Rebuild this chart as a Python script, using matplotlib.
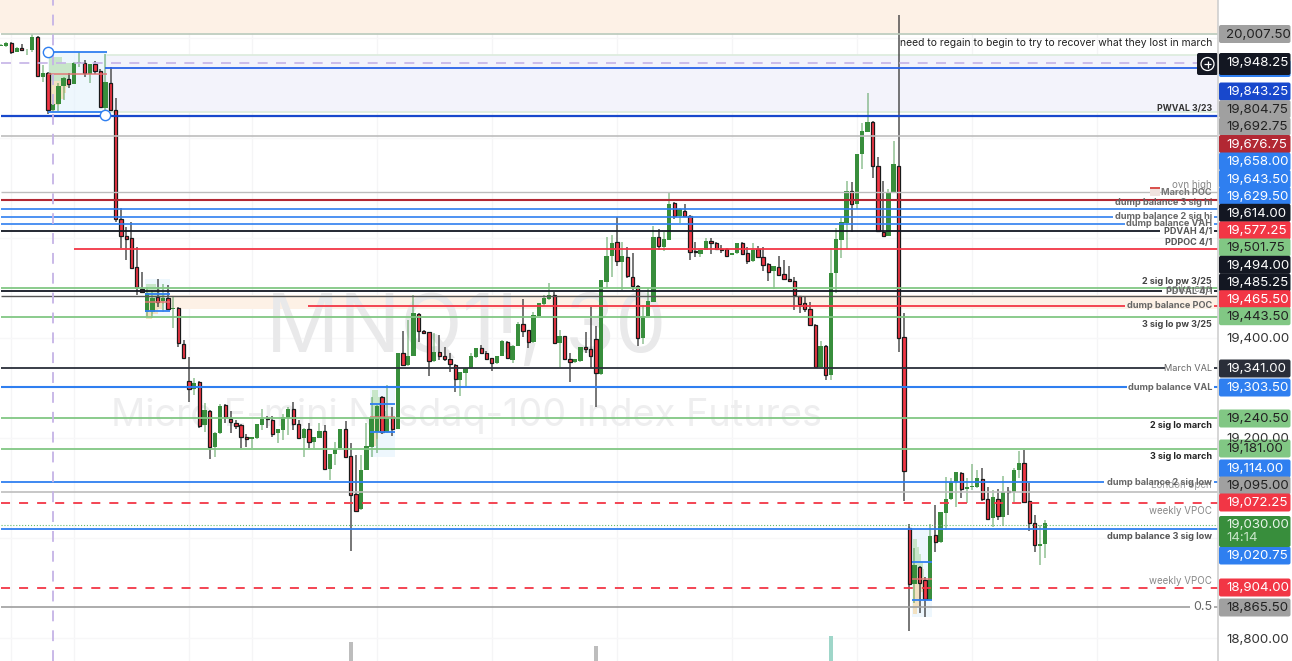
import numpy as np
import matplotlib
matplotlib.use('Agg')
import matplotlib.pyplot as plt
from matplotlib.patches import Rectangle, FancyBboxPatch, Circle

plt.rcParams['font.family'] = ['Inter', 'DejaVu Sans']

#### DATA: 30 minute candles
opens = [19985,19985,19991,19973,19981,19976,19976,20003,19923,19931,
         19856,19868,19905,19919,19909,19950,19951,19928,19949,19935,
         19861,19911,19856,19638,19604,19600,19542,19498,19452,19452,
         19482,19474,19480,19458,19460,19388,19314,19298,19312,19226,
         19254,19182,19210,19266,19238,19230,19226,19202,19198,19200,
         19226,19240,19236,19210,19216,19240,19258,19228,19200,19218,
         19192,19200,19214,19138,19168,19180,19218,19164,19088,19058,
         19136,19182,19212,19282,19212,19242,19218,19370,19346,19364,
         19448,19414,19412,19354,19372,19364,19358,19346,19316,19330,
         19340,19362,19380,19370,19360,19350,19364,19392,19356,19384,
         19428,19416,19392,19444,19468,19478,19486,19390,19404,19358,
         19352,19354,19382,19378,19398,19328,19512,19564,19592,19552,
         19562,19522,19504,19400,19444,19472,19602,19582,19596,19670,
         19644,19654,19644,19574,19568,19576,19594,19590,19578,19578,
         19566,19570,19590,19570,19554,19578,19562,19548,19534,19542,
         19528,19518,19514,19484,19470,19458,19426,19342,19384,19326,
         19530,19596,19630,19694,19668,19768,19812,19832,19744,19612,
         19604,19692,19744,19402,19020,18908,18942,18916,18876,19006,
         18992,19050,19078,19112,19130,19098,19102,19102,19118,19078,
         19040,19078,19042,19094,19092,19136,19150,19074,19030,18984,
         18988]
highs = [19988,19993,19993,19982,19989,19978,20009,20004,19946,19932,
         19876,19910,19922,19930,19952,19973,19956,19948,19955,19938,
         19969,19943,19880,19660,19622,19632,19582,19532,19502,19496,
         19518,19508,19506,19484,19462,19396,19362,19320,19314,19270,
         19256,19212,19268,19268,19254,19236,19228,19208,19202,19228,
         19258,19244,19244,19218,19248,19262,19272,19236,19220,19230,
         19202,19230,19226,19168,19192,19218,19234,19190,19166,19166,
         19230,19282,19266,19284,19306,19262,19370,19414,19436,19486,
         19450,19416,19412,19410,19406,19382,19370,19348,19332,19340,
         19370,19380,19386,19374,19360,19364,19396,19394,19386,19432,
         19478,19416,19452,19470,19486,19510,19492,19416,19404,19370,
         19358,19382,19412,19462,19424,19516,19602,19606,19642,19592,
         19582,19570,19506,19466,19500,19624,19618,19612,19692,19672,
         19660,19668,19646,19592,19576,19600,19600,19592,19586,19580,
         19570,19590,19592,19582,19590,19584,19582,19550,19544,19564,
         19556,19544,19522,19484,19484,19472,19428,19394,19386,19580,
         19620,19640,19714,19712,19768,19830,19890,19834,19762,19714,
         19698,19794,20046,19450,19028,18980,18944,18922,19028,19066,
         19052,19122,19120,19132,19132,19120,19148,19136,19140,19102,
         19096,19098,19124,19102,19140,19174,19176,19110,19046,19026,
         19036]
lows = [19984,19983,19968,19972,19975,19966,19973,19922,19913,19848,
        19852,19854,19876,19900,19908,19942,19923,19910,19928,19862,
        19856,19856,19632,19580,19556,19540,19486,19490,19442,19440,
        19462,19452,19456,19420,19382,19360,19272,19286,19220,19212,
        19158,19162,19208,19230,19210,19218,19180,19182,19180,19198,
        19216,19220,19202,19190,19196,19206,19216,19200,19162,19180,
        19180,19200,19136,19116,19146,19176,19160,18974,19054,19056,
        19136,19162,19170,19208,19210,19204,19218,19344,19344,19364,
        19392,19408,19324,19352,19356,19354,19332,19292,19284,19302,
        19338,19360,19368,19356,19334,19348,19364,19358,19350,19384,
        19402,19380,19390,19444,19464,19476,19388,19342,19356,19312,
        19350,19352,19370,19340,19262,19326,19500,19522,19544,19496,
        19520,19496,19384,19388,19444,19472,19576,19574,19596,19638,
        19630,19642,19556,19562,19562,19576,19568,19578,19570,19562,
        19566,19568,19566,19548,19552,19562,19534,19514,19498,19526,
        19518,19512,19456,19450,19452,19424,19342,19340,19316,19316,
        19490,19560,19578,19612,19658,19738,19812,19720,19614,19604,
        19604,19692,19372,19074,18814,18870,18850,18842,18876,18972,
        18990,19016,19076,19062,19080,19070,19096,19100,19074,19038,
        19022,19036,19024,19046,19072,19120,19072,19014,18972,18946,
        18960]
closes = [19987,19990,19973,19981,19976,19977,20003,19924,19931,19857,
          19868,19905,19921,19908,19951,19952,19931,19948,19934,19863,
          19913,19856,19638,19604,19599,19540,19502,19492,19490,19480,
          19472,19480,19458,19460,19390,19360,19298,19310,19224,19256,
          19182,19210,19264,19242,19232,19224,19202,19198,19202,19228,
          19238,19238,19208,19218,19242,19258,19228,19200,19218,19192,
          19202,19214,19138,19168,19178,19218,19162,19086,19054,19136,
          19184,19240,19264,19212,19242,19218,19370,19346,19364,19450,
          19414,19410,19354,19372,19364,19358,19348,19318,19332,19340,
          19364,19380,19370,19358,19350,19364,19394,19360,19384,19428,
          19414,19392,19446,19470,19480,19486,19390,19404,19358,19352,
          19358,19382,19378,19364,19330,19516,19564,19590,19554,19564,
          19524,19504,19400,19444,19474,19602,19584,19598,19668,19644,
          19658,19644,19572,19572,19576,19594,19590,19578,19576,19564,
          19570,19590,19568,19554,19576,19562,19546,19532,19544,19526,
          19518,19514,19486,19468,19458,19426,19342,19384,19326,19530,
          19598,19632,19694,19668,19768,19814,19832,19744,19614,19604,
          19692,19748,19400,19134,18908,18946,18910,18878,19004,18992,
          19052,19078,19112,19132,19098,19102,19104,19120,19078,19038,
          19082,19044,19092,19092,19136,19150,19072,19030,18986,18988,
          19030]

# only the three tallest volume bars reach into the view
volume_bars = [67, 114, 159]
volume_vals = [1900, 1500, 2500]
volume_cols = ['#bdbdbd', '#bdbdbd', '#9fd6c9']

line_prices = [20008, 19949.4, 19940.6, 19843.4, 19804, 19692.6, 19676, 19657.4, 19642.6, 19628.6, 19613.4,
               19577.4, 19499.4, 19494, 19484.6, 19464, 19442.6, 19340.6, 19302, 19239.4, 19178.6, 19112,
               19092.6, 19070.6, 19026, 19018.6, 18900.6, 18862.6]
line_colors = ['#b9c8b9', '#c5b3e6', '#2962e8', '#1848cc', '#bdbdbd', '#bdbdbd', '#b22833', '#2f7ff0', '#2f7ff0', '#2f7ff0', '#131722',
               '#f23645', '#81c784', '#131722', '#555555', '#f23645', '#81c784', '#2a2e39', '#2f7ff0', '#81c784', '#81c784', '#2f7ff0',
               '#bdbdbd', '#f23645', '#66bb6a', '#2f7ff0', '#f23645', '#9e9e9e']
line_widths = [1.2, 1.2, 1.3, 1.6, 1.2, 1.0, 1.5, 1.2, 1.2, 1.2, 1.3,
               1.3, 1.3, 1.3, 1.0, 1.3, 1.3, 1.3, 1.5, 1.3, 1.3, 1.3,
               1.2, 1.3, 0.8, 1.3, 1.3, 1.2]
line_styles = ['-', (0, (6, 5)), '-', '-', '-', '-', '-', '-', '-', '-', '-',
               '-', '-', '-', '-', '-', '-', '-', '-', '-', '-', '-',
               '-', (0, (5, 5)), ':', '-', (0, (5, 5)), '-']
line_starts = [0, 0, 20, 0, 0, 0, 0, 0, 0, 0, 0,
               14, 0, 0, 0, 58.8, 0, 0, 0, 0, 0, 0,
               0, 0, 0, 0, 0, 0]
# None = runs to the price axis, otherwise the line stops at its label
line_ends = [None, None, None, None, None, None, None, None, 213, 215.3, 222,
             None, None, 222.4, None, 215.3, None, 223, 215.7, None, None, 211.3,
             None, None, None, None, None, 227.8]

# labels on the right end of the levels
label_texts = ['PWVAL 3/23', 'ovn high', 'March POC', 'dump balance 3 sig hi', 'dump balance 2 sig hi', 'dump balance VAH',
               'PDVAH 4/1', 'PDPOC 4/1', '2 sig lo pw 3/25', 'spike end', 'PDVAL 4/1', 'dump balance POC',
               '3 sig lo pw 3/25', 'March VAL', 'dump balance VAL', '2 sig lo march', '3 sig lo march',
               'London open', 'dump balance 2 sig low', 'weekly VPOC', 'dump balance 3 sig low', 'weekly VPOC', '0.5']
label_ys = [109, 185, 192.5, 202.5, 216.5, 224, 231.5, 242.5, 281.5, 288.5, 291.5, 306,
            324.5, 368.5, 387.5, 426, 456.5, 484.5, 482.5, 511.5, 536.5, 580.5, 607.5]
label_colors = ['#333333', '#888888', '#777777', '#666666', '#666666', '#666666',
                '#555555', '#555555', '#444444', '#888888', '#666666', '#666666',
                '#444444', '#666666', '#666666', '#222222', '#222222',
                '#999999', '#666666', '#888888', '#555555', '#888888', '#666666']
label_weights = ['bold', 'normal', 'bold', 'bold', 'bold', 'bold',
                 'bold', 'bold', 'bold', 'normal', 'bold', 'bold',
                 'bold', 'normal', 'bold', 'bold', 'bold',
                 'normal', 'bold', 'normal', 'bold', 'normal', 'normal']
label_sizes = [6.3, 7, 6.6, 6.6, 6.6, 6.6,
               6.5, 6.5, 6.5, 7, 6.5, 6.6,
               6.5, 6.6, 6.6, 6.5, 6.5,
               7, 6.6, 7, 6.6, 7, 9]

# price tags on the axis, drawn in this order
tag_texts = ['20,007.50', '19,948.25', '19,843.25', '19,804.75', '19,692.75', '19,676.75', '19,658.00', '19,643.50',
             '19,629.50', '19,614.00', '19,577.25', '19,501.75', '19,494.00', '19,485.25', '19,465.50', '19,443.50',
             '19,341.00', '19,303.50', '19,240.50', '19,181.00', '19,114.00', '19,095.00', '19,072.25', '19,020.75',
             '18,904.00', '18,865.50']
tag_ys = [33.5, 62, 91, 108.7, 126, 143.5, 161, 178.3, 195.3, 212.3, 230, 247, 264.3, 282, 298.7, 315.7,
          368, 387, 418, 448, 468, 485, 502, 555, 587, 607]
tag_fills = ['#a0a0a0', '#131722', '#1848cc', '#a0a0a0', '#a0a0a0', '#b22833', '#2f7ff0', '#2f7ff0',
             '#2f7ff0', '#131722', '#f23645', '#81c784', '#131722', '#131722', '#f23645', '#81c784',
             '#2a2e39', '#2f7ff0', '#81c784', '#81c784', '#2f7ff0', '#a0a0a0', '#f23645', '#2f7ff0',
             '#f23645', '#a0a0a0']
tag_inks = ['#222222', 'white', 'white', '#222222', '#222222', 'white', 'white', 'white',
            'white', 'white', 'white', '#222222', 'white', 'white', 'white', '#222222',
            'white', 'white', '#222222', '#222222', 'white', '#222222', 'white', 'white',
            'white', '#222222']
plain_ticks = ['19,400.00', '19,200.00', '18,800.00']
plain_tick_ys = [338, 438, 639]

# volume profiles and position boxes (bar index / price)
vp_prices = [[19956, 19944, 19932, 19920, 19908, 19896, 19884, 19872, 19860],
             [19504, 19494, 19484, 19474, 19464, 19454, 19444],
             [19290, 19276, 19262, 19248, 19234, 19220, 19206, 19192],
             [18990, 18975, 18960, 18945, 18930, 18915, 18900, 18885, 18870, 18855]]
vp_sizes = [[2.5, 4.5, 5.2, 4.0, 3.6, 3.2, 2.8, 2.2, 1.2],
            [1.8, 2.6, 3.6, 3.4, 3.0, 2.2, 1.2],
            [1.2, 1.8, 2.4, 2.8, 2.4, 1.8, 1.2, 0.8],
            [0.6, 1.0, 1.4, 1.8, 2.0, 2.2, 2.0, 1.4, 1.0, 0.6]]
vp_lefts = [9.2, 27.8, 71, 174.8]
box_lefts = [9, 27.6, 70.7, 174.5]
box_rights = [20.3, 32.4, 75.5, 178.4]
box_tops = [19972, 19518, 19304, 19018]
box_bottoms = [19852, 19442, 19162, 18842]
box_hi = [19972, 19488, 19268, 18952]
box_lo = [19852, 19454, 19212, 18876]
box_mid = [19928, 19472, 19242, 18918]

grid_bars = [2, 14, 36, 48, 72, 94, 118, 140, 164, 186, 210]
grid_prices = [20000, 19800, 19600, 19400, 19200, 19000, 18800]

#### FIGURE
W, H = 1292, 661
CHART_W = 1218
fig = plt.figure(figsize=(W / 100, H / 100), dpi=100)
ax = fig.add_axes([0, 0, CHART_W / W, 1])

# one bar is 5.22 px, price axis is 2 points per px
xmin = -0.19
xmax = xmin + CHART_W / 5.22
ymax = 20076
ymin = 20076 - 2 * H
ax.set_xlim(xmin, xmax)
ax.set_ylim(ymin, ymax)
ax.axis('off')

x = np.arange(len(opens))
o, h, l, c = map(np.array, (opens, highs, lows, closes))
up = c >= o

for g in grid_bars:
    ax.axvline(g, color='#f5f5f6', lw=1, zorder=0)
for p in grid_prices:
    ax.axhline(p, color='#f7f7f8', lw=1, zorder=0)

# zones
ax.axhspan(20010, ymax, color='#fdf1e6', lw=0, zorder=0.1)
ax.fill_between([20, xmax], 19852, 19966, color='#f3f3fb', lw=0, zorder=0.1)
ax.hlines([19966, 19852], 20, xmax, color='#dcebdc', lw=1.2, zorder=0.2)
ax.fill_between([32.4, xmax], 19458, 19486, color='#fdf1e6', lw=0, zorder=0.1)

# watermark
ax.text(0.3826, 1 - 331 / H, 'MNQ1!, 30', transform=ax.transAxes, fontsize=58.4, color='#e9e9ea',
        ha='center', va='center', zorder=0.3)
ax.text(0.3826, 1 - 416 / H, 'Micro E-mini Nasdaq-100 Index Futures', transform=ax.transAxes, fontsize=27.35,
        color='#eeeeef', ha='center', va='center', zorder=0.3)

# position boxes with their volume profile
for i in range(len(box_lefts)):
    ax.fill_between([box_lefts[i], box_rights[i]], box_bottoms[i], box_tops[i], color='#e3f2fd', alpha=0.6, lw=0, zorder=0.5)
    cols = ['#b8e0b4' if p > np.mean(vp_prices[i]) else '#f5d9a8' for p in vp_prices[i]]
    ax.barh(vp_prices[i], vp_sizes[i], left=vp_lefts[i], height=abs(vp_prices[i][0] - vp_prices[i][1]),
            color=cols, alpha=0.7, lw=0, zorder=0.6)

# candles
ax.vlines(x[up], l[up], h[up], color='#388e3c', alpha=0.55, lw=1.1, zorder=1)
ax.vlines(x[~up], l[~up], h[~up], color='#333333', alpha=0.85, lw=1.1, zorder=1)
ax.bar(x[up], (c - o)[up], bottom=o[up], width=0.82, color='#388e3c', lw=0, zorder=2)
ax.bar(x[~up], (o - c)[~up], bottom=c[~up], width=0.62, color='#f23645', edgecolor='#1a1a1a', lw=0.9, zorder=2)

# box levels go above the candles
for i in range(len(box_lefts)):
    ax.hlines([box_hi[i], box_lo[i]], box_lefts[i], box_rights[i], color='#2f7ff0', lw=1.3, zorder=3)
    ax.hlines(box_mid[i], box_lefts[i], box_rights[i], color='#e57373', alpha=0.8, lw=1.3, zorder=3)

# levels
for i in range(len(line_prices)):
    x1 = xmax if line_ends[i] is None else line_ends[i]
    ax.hlines(line_prices[i], line_starts[i], x1, color=line_colors[i], lw=line_widths[i], linestyles=line_styles[i], zorder=3)
    if line_ends[i] is not None:
        ax.hlines(line_prices[i], xmax - 0.7, xmax, color=line_colors[i], lw=line_widths[i], zorder=3)
ax.vlines(9.9, ymin, ymax, color='#c5b3e6', lw=1.3, linestyles=(0, (6, 5)), zorder=3)

# handles of the long position tool
ax.scatter([9, 19.9], [19972, 19846], s=55, facecolor='white', edgecolor='#2f7ff0', lw=1, zorder=4)

# volume
vol_ax = ax.twinx()
vol_ax.set_ylim(0, 100 * H)
vol_ax.axis('off')
vol_ax.bar(volume_bars, volume_vals, width=0.8, color=volume_cols, lw=0)

# overlay in pixel coordinates for the labels and the price scale
ov = fig.add_axes([0, 0, 1, 1], facecolor='none')
ov.set_xlim(0, W)
ov.set_ylim(H, 0)
ov.axis('off')
ov.vlines(CHART_W, 0, H, color='#cfcfcf', lw=1.2)

ov.text(1212, 43.5, 'need to regain to begin to try to recover what they lost in march', fontsize=7.46,
        color='#222222', ha='right', va='center')
for i in range(len(label_texts)):
    ov.text(1212, label_ys[i], label_texts[i], fontsize=label_sizes[i], color=label_colors[i], fontweight=label_weights[i],
            ha='right', va='center')
ov.add_patch(Rectangle((1150, 187), 10, 9, facecolor='#f0e2de', edgecolor='none', zorder=0.5))
ov.add_patch(Rectangle((1150, 187), 10, 1.5, facecolor='#d9534f', edgecolor='none', zorder=0.5))

for i in range(len(plain_ticks)):
    ov.text(1226, plain_tick_ys[i] + 1.3, plain_ticks[i], fontsize=9.6, color='#333333', va='center', ha='left')

# blue tag hidden behind the crosshair tag, only its lower edge shows
ov.add_patch(FancyBboxPatch((1219, 60), 71.5, 17, boxstyle='round,pad=0,rounding_size=2', facecolor='#2f7ff0', edgecolor='none'))

for i in range(len(tag_texts)):
    y0 = tag_ys[i] - 8.5
    hgt = 18
    if tag_texts[i] == '19,948.25':
        y0, hgt = 53, 22
    ov.add_patch(FancyBboxPatch((1219, y0), 71.5, hgt, boxstyle='round,pad=0,rounding_size=2',
                                facecolor=tag_fills[i], edgecolor='none'))
    ov.text(1226, tag_ys[i] + 1.3, tag_texts[i], fontsize=9.6, color=tag_inks[i], va='center', ha='left')

# last price tag with the countdown
ov.add_patch(FancyBboxPatch((1219, 516), 71.5, 31, boxstyle='round,pad=0,rounding_size=2', facecolor='#388e3c', edgecolor='none'))
ov.text(1226, 524.6, '19,030.00', fontsize=9.6, color='#e8f5e9', va='center', ha='left')
ov.text(1226, 538, '14:14', fontsize=9.6, color='#c8e6c9', va='center', ha='left')

# crosshair plus button
ov.add_patch(FancyBboxPatch((1197, 53), 21, 22, boxstyle='round,pad=0,rounding_size=2', facecolor='#131722', edgecolor='none'))
ov.add_patch(Circle((1207.5, 64), 6.5, facecolor='none', edgecolor='white', lw=0.9))
ov.hlines(64, 1204, 1211, color='white', lw=0.9)
ov.vlines(1207.5, 60.5, 67.5, color='white', lw=0.9)

fig.savefig('out.png', dpi=100)
